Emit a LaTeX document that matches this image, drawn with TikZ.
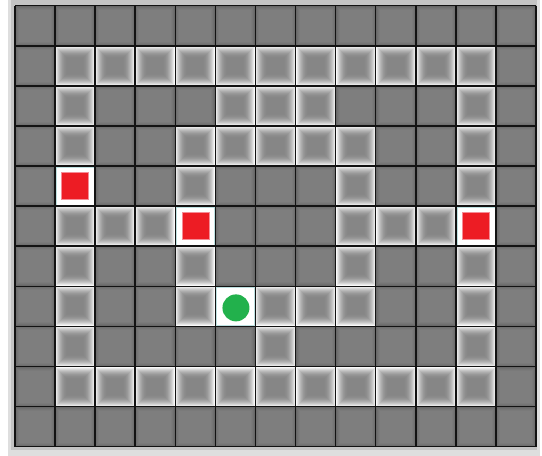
\documentclass[tikz,border=0pt]{standalone}
\definecolor{cellgray}{RGB}{128,128,128}
\definecolor{pathgray}{RGB}{134,134,134}
\definecolor{celledge}{RGB}{104,104,104}
\definecolor{framegray}{RGB}{196,196,196}
\definecolor{framelight}{RGB}{222,222,222}
\definecolor{gridline}{RGB}{18,18,18}
\definecolor{goalred}{RGB}{237,28,36}
\definecolor{goalrim}{RGB}{245,140,150}
\definecolor{agentgreen}{RGB}{34,177,76}
\definecolor{specialrim}{RGB}{190,225,225}
\tikzset{
  goalbox/.style={rectangle, fill=goalred, draw=goalrim, line width=0.6pt, minimum size=27pt, inner sep=0pt},
  agentdot/.style={circle, fill=agentgreen, minimum size=27pt, inner sep=0pt},
  gridstroke/.style={gridline, line width=1.5pt},
}
\begin{document}
\begin{tikzpicture}[x=1pt,y=-1pt]
\useasboundingbox (0,0) rectangle (542,456);
\fill[white] (0,0) rectangle (542,456);
\fill[framegray] (8,0) rectangle (540,456);
\fill[framelight] (8,0) rectangle (11,456);
\fill[framelight] (8,450) rectangle (540,456);
\fill[framelight] (537,0) rectangle (540,456);
% ordinary cells
\foreach \c in {0,...,12}{
  \foreach \r in {0,...,10}{
    \foreach \k/\p in {0/100,1/70,2/45,3/25,4/10}{
      \fill[celledge!\p!cellgray] ({15+40.08*\c+\k},{5.7+40.09*\r+\k}) rectangle ({15+40.08*(\c+1)-\k},{5.7+40.09*(\r+1)-\k});
    }
  }
}
% path cells with light glow
\foreach \c/\r in {1/1,2/1,3/1,4/1,5/1,6/1,7/1,8/1,9/1,10/1,11/1,
                   1/2,5/2,6/2,7/2,11/2,
                   1/3,4/3,5/3,6/3,7/3,8/3,11/3,
                   4/4,8/4,11/4,
                   1/5,2/5,3/5,8/5,9/5,10/5,
                   1/6,4/6,8/6,11/6,
                   1/7,4/7,6/7,7/7,8/7,11/7,
                   1/8,6/8,11/8,
                   1/9,2/9,3/9,4/9,5/9,6/9,7/9,8/9,9/9,10/9,11/9}{
  \foreach \k/\p in {0/95,1/80,2/66,3/53,4/42,5/32,6/24,7/16,8/11,9/6,10/3,11/1,12/0}{
    \fill[white!\p!pathgray] ({15+40.08*\c+\k},{5.7+40.09*\r+\k}) rectangle ({15+40.08*(\c+1)-\k},{5.7+40.09*(\r+1)-\k});
  }
}
% special cells: white background
\foreach \c/\r in {1/4,4/5,11/5,5/7}{
  \fill[white, draw=specialrim, line width=0.5pt] ({15+40.08*\c+1},{5.7+40.09*\r+1}) rectangle ({15+40.08*(\c+1)-1},{5.7+40.09*(\r+1)-1});
}
% grid lines
\foreach \c in {0,...,13}{
  \draw[gridstroke] ({15+40.08*\c},5.7) -- ({15+40.08*\c},446.7);
}
\foreach \r in {0,...,11}{
  \draw[gridstroke] (15,{5.7+40.09*\r}) -- (536,{5.7+40.09*\r});
}
% goals and agent
\node[goalbox] (goalA) at ({15+40.08*1.5},{5.7+40.09*4.5}) {};
\node[goalbox] (goalB) at ({15+40.08*4.5},{5.7+40.09*5.5}) {};
\node[goalbox] (goalC) at ({15+40.08*11.5},{5.7+40.09*5.5}) {};
\node[agentdot] (agent) at ({15+40.08*5.5+0.5},{5.7+40.09*7.5+1.5}) {};
\end{tikzpicture}
\end{document}
